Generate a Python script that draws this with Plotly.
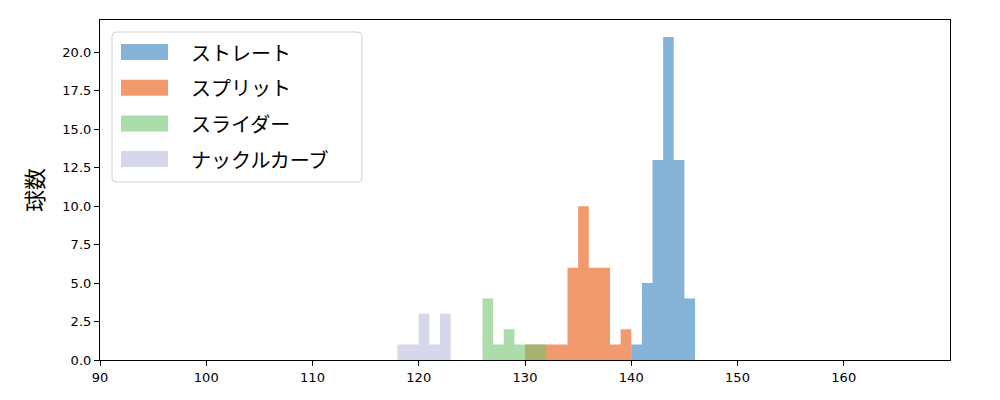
import plotly.graph_objects as go

# bin left edges (width 1) and counts per pitch type
straight_bins = [140, 141, 142, 143, 144, 145]
straight_counts = [1, 5, 13, 21, 13, 4]

split_bins = [130, 131, 132, 133, 134, 135, 136, 137, 138, 139]
split_counts = [1, 1, 1, 1, 6, 10, 6, 6, 1, 2]

slider_bins = [126, 127, 128, 129, 130, 131]
slider_counts = [4, 1, 2, 1, 1, 1]

knuckle_bins = [118, 119, 120, 121, 122]
knuckle_counts = [1, 1, 3, 1, 3]

bin_width = 1

names = ["ストレート", "スプリット", "スライダー", "ナックルカーブ"]
colors = ["rgba(52,128,188,0.6)", "rgba(230,87,13,0.6)",
          "rgba(118,197,115,0.6)", "rgba(188,188,222,0.6)"]

series = [(straight_bins, straight_counts), (split_bins, split_counts),
          (slider_bins, slider_counts), (knuckle_bins, knuckle_counts)]

fig = go.Figure()
for (bins, counts), name, col in zip(series, names, colors):
    # histogram drawn as a filled step outline (no seams between bins)
    xs = [bins[0]] + list(bins) + [bins[-1] + bin_width]
    ys = [0] + list(counts) + [0]
    fig.add_trace(go.Scatter(
        x=xs, y=ys, name=name, mode="lines",
        line=dict(shape="hv", width=0, color="rgba(0,0,0,0)"),
        fill="tozeroy", fillcolor=col,
        showlegend=False, hoverinfo="skip",
    ))

# plot area in page pixels: x 100..950, y 20..360 (page has 8px body offset)
PL, PR, PT, PB = 100, 950, 20, 360


def px_x(p):
    return (p - PL) / (PR - PL)


def px_y(p):
    return (PB - p) / (PB - PT)


font_family = "Noto Sans CJK JP, DejaVu Sans, sans-serif"

# custom legend (matplotlib style)
shapes = []
annotations = []
bx0, bx1, by0, by1 = 112, 362, 32, 182
r = 4
path = (f"M {px_x(bx0 + r)},{px_y(by0)} L {px_x(bx1 - r)},{px_y(by0)} "
        f"Q {px_x(bx1)},{px_y(by0)} {px_x(bx1)},{px_y(by0 + r)} "
        f"L {px_x(bx1)},{px_y(by1 - r)} Q {px_x(bx1)},{px_y(by1)} {px_x(bx1 - r)},{px_y(by1)} "
        f"L {px_x(bx0 + r)},{px_y(by1)} Q {px_x(bx0)},{px_y(by1)} {px_x(bx0)},{px_y(by1 - r)} "
        f"L {px_x(bx0)},{px_y(by0 + r)} Q {px_x(bx0)},{px_y(by0)} {px_x(bx0 + r)},{px_y(by0)} Z")
shapes.append(dict(type="path", xref="paper", yref="paper", path=path,
                   fillcolor="rgba(255,255,255,0.8)", line=dict(color="#d0d0d0", width=1)))
for i, (name, col) in enumerate(zip(names, colors)):
    yc = 52 + i * 35.7
    shapes.append(dict(type="rect", xref="paper", yref="paper",
                       x0=px_x(121), x1=px_x(168), y0=px_y(yc - 8), y1=px_y(yc + 8),
                       fillcolor=col, line=dict(width=0)))
    annotations.append(dict(xref="paper", yref="paper", x=px_x(189), y=px_y(yc),
                            text=name, showarrow=False, xanchor="left", yanchor="middle",
                            font=dict(size=20, family=font_family, color="black")))

fig.update_layout(
    width=1000, height=400,
    plot_bgcolor="white", paper_bgcolor="white",
    margin=dict(l=92, r=58, t=12, b=48),
    font=dict(family=font_family, color="black"),
    showlegend=False,
    shapes=shapes,
    annotations=annotations,
    xaxis=dict(
        range=[90, 170], tickmode="array",
        tickvals=[90, 100, 110, 120, 130, 140, 150, 160],
        ticks="outside", ticklen=5, tickwidth=1.2, tickcolor="black",
        showline=True, linecolor="black", linewidth=1.2, mirror=True,
        showgrid=False, zeroline=False,
        tickfont=dict(size=13, family="DejaVu Sans"),
    ),
    yaxis=dict(
        range=[0, 22.1], tickmode="array",
        tickvals=[0, 2.5, 5, 7.5, 10, 12.5, 15, 17.5, 20],
        ticktext=["0.0", "2.5", "5.0", "7.5", "10.0", "12.5", "15.0", "17.5", "20.0"],
        ticks="outside", ticklen=5, tickwidth=1.2, tickcolor="black",
        showline=True, linecolor="black", linewidth=1.2, mirror=True,
        showgrid=False, zeroline=False,
        tickfont=dict(size=13, family="DejaVu Sans"),
        title=dict(text="球数", font=dict(size=22, family=font_family), standoff=12),
    ),
)

fig.write_html("out.html")
